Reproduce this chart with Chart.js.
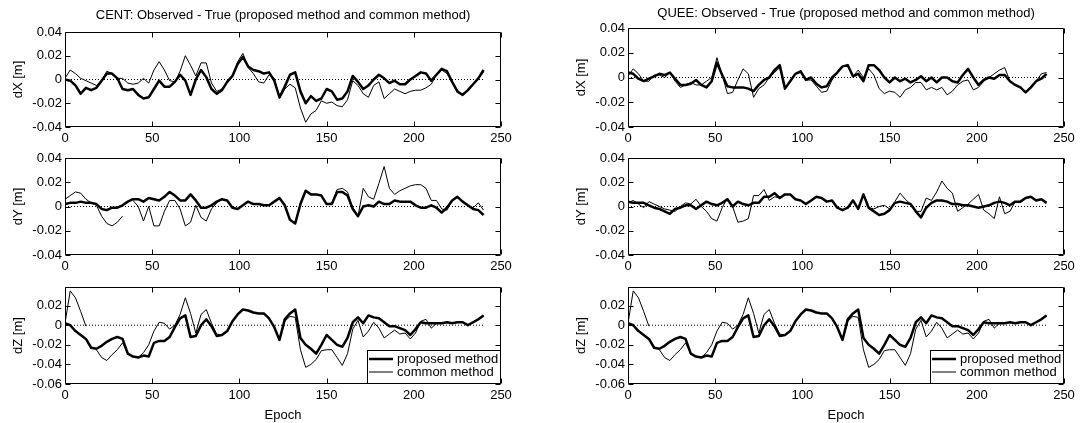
<!DOCTYPE html>
<html lang="en">
<head>
<meta charset="UTF-8">
<title>Observed - True (proposed method and common method)</title>
<script src="https://cdn.jsdelivr.net/npm/chart.js"></script>
<style>
    body {
        margin: 0;
        background: #fff;
        width: 1081px;
        height: 423px;
        overflow: hidden;
        position: relative;
    }
    canvas { position: absolute; }
</style>
</head>
<body>
<script>
// epochs sampled every 3rd epoch
const epochs = [
    0,3,6,9,12,15,18,21,24,27,
    30,33,36,39,42,45,48,51,54,57,
    60,63,66,69,72,75,78,81,84,87,
    90,93,96,99,102,105,108,111,114,117,
    120,123,126,129,132,135,138,141,144,147,
    150,153,156,159,162,165,168,171,174,177,
    180,183,186,189,192,195,198,201,204,207,
    210,213,216,219,222,225,228,231,234,237,
    240];

// CENT station [m]
const centXProposed = [
    0.000,-0.001,-0.005,-0.012,-0.007,-0.009,-0.007,-0.001,0.005,0.005,
    0.001,-0.008,-0.009,-0.008,-0.013,-0.016,-0.015,-0.008,-0.001,-0.006,
    -0.006,-0.002,0.004,-0.001,-0.013,0.000,0.008,0.002,-0.008,-0.012,
    -0.009,-0.002,0.003,0.013,0.019,0.011,0.008,0.007,0.005,0.006,
    -0.001,-0.015,-0.006,0.004,0.006,-0.010,-0.020,-0.014,-0.018,-0.016,
    -0.008,-0.010,-0.017,-0.016,-0.010,0.003,-0.002,-0.008,-0.005,0.000,
    0.004,0.001,-0.003,-0.001,-0.004,-0.004,0.000,0.003,0.006,0.005,
    -0.001,0.004,0.009,0.007,-0.002,-0.010,-0.013,-0.009,-0.004,0.001,
    0.008];
const centXCommon = [
    0.001,0.008,0.005,0.001,-0.001,-0.003,-0.005,-0.001,0.007,0.005,
    0.001,0.001,-0.003,-0.004,-0.003,0.001,-0.003,0.008,0.015,0.008,
    -0.001,-0.002,0.007,0.020,0.012,0.003,0.014,0.014,-0.003,-0.010,
    -0.008,-0.002,0.002,0.015,0.022,0.010,0.005,-0.002,-0.003,0.004,
    0.001,-0.016,-0.008,-0.004,-0.007,-0.024,-0.036,-0.029,-0.026,-0.018,
    -0.020,-0.019,-0.022,-0.023,-0.017,-0.001,-0.005,-0.012,-0.015,-0.005,
    -0.002,-0.016,-0.012,-0.008,-0.010,-0.012,-0.010,-0.009,-0.009,-0.007,
    -0.004,0.004,0.008,0.005,-0.002,-0.011,-0.012,-0.009,-0.004,0.001,
    0.006];
const centYProposed = [
    0.002,0.003,0.003,0.004,0.003,0.003,0.002,-0.002,-0.003,-0.001,
    -0.001,0.001,0.004,0.006,0.006,0.004,0.007,0.006,0.005,0.008,
    0.012,0.009,0.005,0.005,0.010,0.005,-0.001,-0.001,0.001,0.004,
    0.006,0.005,-0.001,-0.002,0.001,0.004,0.002,0.002,0.001,0.001,
    0.004,0.007,0.001,-0.011,-0.014,0.002,0.013,0.010,0.010,0.009,
    0.002,0.002,0.012,0.012,0.009,-0.002,-0.008,0.000,0.001,0.000,
    0.004,0.002,0.002,0.005,0.004,0.004,0.004,0.001,-0.001,-0.001,
    0.001,-0.001,-0.005,-0.001,0.005,0.008,0.004,0.001,-0.002,-0.003,
    -0.007];
const centYCommon = [
    0.006,0.009,0.012,0.011,0.006,0.003,0.001,-0.008,-0.014,-0.016,
    -0.013,-0.008,null,0.005,0.000,-0.012,0.000,-0.016,-0.016,-0.004,
    0.005,0.005,-0.002,-0.016,-0.013,0.001,-0.009,-0.012,-0.002,0.003,
    0.006,0.005,-0.001,-0.002,0.001,0.004,0.002,0.002,0.001,0.001,
    0.004,0.007,0.001,-0.011,-0.014,0.003,0.013,0.010,0.010,0.009,
    0.002,0.003,0.014,0.015,0.012,-0.001,-0.008,0.015,0.008,0.006,
    0.019,0.033,0.015,0.010,0.013,0.015,0.017,0.018,0.018,0.015,
    0.005,0.005,-0.002,-0.003,0.005,0.008,0.004,0.001,-0.001,0.003,
    -0.003];
const centZProposed = [
    0.002,0.000,-0.006,-0.010,-0.014,-0.023,-0.024,-0.021,-0.017,-0.014,
    -0.012,-0.014,-0.029,-0.032,-0.033,-0.031,-0.032,-0.018,-0.016,-0.016,
    -0.012,-0.002,0.007,0.010,-0.012,-0.011,0.000,0.006,-0.001,-0.011,
    -0.010,-0.006,0.004,0.011,0.016,0.015,0.013,0.012,0.012,0.007,
    -0.002,-0.015,0.006,0.012,0.016,-0.013,-0.020,-0.024,-0.029,-0.020,
    -0.010,-0.015,-0.020,-0.022,-0.013,0.003,0.008,0.002,0.010,0.008,
    0.007,0.003,-0.001,-0.001,-0.003,-0.005,-0.010,-0.004,0.003,0.002,
    0.002,0.002,0.002,0.003,0.002,0.003,0.003,0.000,0.003,0.006,
    0.010];
const centZCommon = [
    0.002,0.035,0.028,0.014,-0.001,null,-0.025,-0.033,-0.036,-0.030,
    -0.025,-0.018,-0.029,-0.032,-0.033,-0.028,-0.020,-0.006,0.003,0.002,
    -0.004,0.000,0.011,0.028,0.012,-0.008,0.011,0.016,0.002,-0.009,
    -0.010,-0.006,0.004,0.011,0.016,0.015,0.013,0.012,0.012,0.007,
    -0.002,-0.015,0.004,0.009,0.008,-0.025,-0.043,-0.040,-0.035,-0.026,
    -0.025,-0.025,-0.033,-0.041,-0.029,-0.004,0.005,-0.012,-0.006,0.003,
    -0.003,-0.013,-0.009,-0.005,-0.009,-0.008,-0.014,-0.008,0.004,0.006,
    -0.003,0.002,0.002,0.003,0.002,0.003,0.003,0.000,0.003,0.006,
    0.010];

// QUEE station [m]
const queeXProposed = [
    0.004,0.003,-0.001,-0.003,-0.001,0.001,0.003,0.002,0.004,-0.001,
    -0.006,-0.006,-0.005,-0.002,-0.006,-0.008,-0.003,0.012,0.002,-0.007,
    -0.008,-0.008,-0.008,-0.009,-0.011,-0.006,-0.002,0.000,0.006,0.010,
    -0.009,-0.003,0.003,0.005,-0.002,0.000,-0.005,-0.008,-0.007,0.000,
    0.004,0.009,0.010,0.001,0.003,-0.003,0.010,0.010,0.006,0.000,
    -0.004,0.000,-0.003,-0.001,-0.004,-0.002,0.001,-0.003,0.000,-0.004,
    0.000,0.000,-0.003,-0.004,0.002,0.007,0.000,-0.006,-0.002,0.000,
    -0.001,0.002,0.002,-0.003,-0.006,-0.008,-0.012,-0.008,-0.003,-0.001,
    0.003];
const queeXCommon = [
    0.001,0.007,0.003,-0.003,-0.003,0.002,0.002,0.000,0.004,-0.003,
    -0.008,-0.006,-0.004,-0.006,-0.006,-0.003,0.000,0.016,0.002,-0.013,
    -0.012,-0.002,0.007,0.003,-0.016,-0.009,-0.006,0.000,0.004,0.008,
    -0.009,-0.003,0.003,0.004,-0.002,-0.002,-0.007,-0.012,-0.011,-0.002,
    0.004,0.009,0.010,0.001,0.006,0.000,0.007,0.002,-0.009,-0.013,
    -0.011,-0.012,-0.016,-0.010,-0.008,-0.004,-0.004,-0.010,-0.008,-0.010,
    -0.008,-0.014,-0.011,-0.006,-0.003,-0.002,-0.010,-0.008,-0.003,0.000,
    0.003,0.006,0.008,-0.003,-0.006,-0.008,-0.012,-0.008,-0.003,0.003,
    0.004];
const queeYProposed = [
    0.004,0.003,0.003,0.003,0.001,-0.001,-0.002,-0.004,-0.006,-0.002,
    -0.001,0.001,0.001,-0.002,0.001,0.004,0.002,0.001,0.003,0.006,
    0.000,0.004,0.002,0.001,0.003,0.003,0.008,0.008,0.011,0.007,
    0.010,0.010,0.006,0.005,0.002,0.005,0.008,0.007,0.004,0.005,
    -0.001,-0.003,-0.001,0.005,-0.002,0.010,-0.001,-0.004,-0.007,-0.006,
    -0.003,0.003,0.004,0.003,0.002,-0.004,-0.009,-0.001,0.003,0.005,
    0.005,0.004,0.002,0.002,0.001,0.001,0.000,-0.001,0.000,0.001,
    0.003,0.004,0.003,0.001,0.004,0.004,0.007,0.008,0.005,0.006,
    0.003];
const queeYCommon = [
    0.003,0.005,0.002,-0.001,0.004,0.002,0.000,-0.002,-0.003,-0.004,
    0.000,0.003,0.002,0.006,0.000,-0.004,-0.010,-0.012,-0.001,0.007,
    0.000,-0.013,-0.012,-0.010,0.009,0.009,0.014,0.005,0.008,0.007,
    0.010,0.010,0.006,0.005,0.002,0.005,0.008,0.007,0.004,0.005,
    -0.001,-0.003,-0.001,0.005,-0.002,0.010,-0.001,-0.002,0.000,0.001,
    -0.002,0.004,0.011,0.006,0.002,-0.004,-0.004,0.007,0.005,0.012,
    0.021,0.015,0.011,-0.004,-0.001,0.002,0.006,0.010,-0.003,-0.006,
    -0.010,0.008,-0.006,-0.004,0.004,0.004,0.007,0.008,0.005,0.006,
    0.003];
// the dZ panels show the same curves for both stations
const queeZProposed = centZProposed;
const queeZCommon = centZCommon;

const seriesNames = ['proposed method', 'common method'];
const xTicks = [0, 50, 100, 150, 200, 250];
const yTicksXY = [-0.04, -0.02, 0, 0.02, 0.04];
const yTicksZ = [-0.06, -0.04, -0.02, 0, 0.02];

const Y_AXIS_W = 58, PAD_RIGHT = 17, AREA_W = 436;
const FONT = "'Liberation Sans', Arial, sans-serif";

Chart.defaults.font.family = FONT;
Chart.defaults.font.size = 13;
Chart.defaults.color = '#000';

const panels = [
    {left: 65, top: 32, h: 95, title: 'CENT: Observed - True (proposed method and common method)', titleY: 15,
     ylabel: 'dX [m]', proposed: centXProposed, common: centXCommon, yTicks: yTicksXY, yMin: -0.04, yMax: 0.04},
    {left: 65, top: 158, h: 97, ylabel: 'dY [m]', proposed: centYProposed, common: centYCommon,
     yTicks: yTicksXY, yMin: -0.04, yMax: 0.04},
    {left: 65, top: 287, h: 97, ylabel: 'dZ [m]', proposed: centZProposed, common: centZCommon,
     yTicks: yTicksZ, yMin: -0.06, yMax: 0.039, xlabel: 'Epoch', legend: true},
    {left: 628, top: 28, h: 99, title: 'QUEE: Observed - True (proposed method and common method)', titleY: 13.3,
     ylabel: 'dX [m]', proposed: queeXProposed, common: queeXCommon, yTicks: yTicksXY, yMin: -0.04, yMax: 0.04},
    {left: 628, top: 158, h: 97, ylabel: 'dY [m]', proposed: queeYProposed, common: queeYCommon,
     yTicks: yTicksXY, yMin: -0.04, yMax: 0.04},
    {left: 628, top: 287, h: 97, ylabel: 'dZ [m]', proposed: queeZProposed, common: queeZCommon,
     yTicks: yTicksZ, yMin: -0.06, yMax: 0.039, xlabel: 'Epoch', legend: true}
];

// box round the axes with inward ticks on all four sides
const framePlugin = {
    id: 'frame',
    afterDatasetsDraw(chart) {
        const {ctx, chartArea: a, scales} = chart;
        const L = Math.round(a.left) + 0.5, R = Math.round(a.right) - 0.5;
        const T = Math.round(a.top) + 0.5, B = Math.round(a.bottom) - 0.5;
        ctx.save();
        ctx.strokeStyle = '#000';
        ctx.lineWidth = 1;
        ctx.beginPath();
        ctx.rect(L, T, R - L, B - T);
        scales.x.ticks.forEach(t => {
            const x = Math.round(scales.x.getPixelForValue(t.value)) + 0.5;
            ctx.moveTo(x, B); ctx.lineTo(x, B - 5);
            ctx.moveTo(x, T); ctx.lineTo(x, T + 5);
        });
        scales.y.ticks.forEach(t => {
            const y = Math.round(scales.y.getPixelForValue(t.value)) + 0.5;
            ctx.moveTo(L, y); ctx.lineTo(L + 5, y);
            ctx.moveTo(R, y); ctx.lineTo(R - 5, y);
        });
        ctx.stroke();
        ctx.restore();
    }
};

const legendPlugin = {
    id: 'legendBox',
    afterDraw(chart, args, opts) {
        if (!opts.show) return;
        const {ctx, chartArea: a} = chart;
        const x0 = Math.round(a.right) - 134, y0 = Math.round(a.bottom) - 34;
        const x1 = Math.round(a.right), y1 = Math.round(a.bottom);
        ctx.save();
        ctx.fillStyle = '#fff';
        ctx.fillRect(x0, y0, x1 - x0, y1 - y0);
        ctx.strokeStyle = '#000';
        ctx.lineWidth = 1;
        ctx.strokeRect(x0 + 0.5, y0 + 0.5, x1 - x0 - 1, y1 - y0 - 1);
        ctx.font = '13px ' + FONT;
        ctx.textBaseline = 'middle';
        ctx.fillStyle = '#000';
        const rows = chart.data.datasets.filter(d => d.inLegend)
            .sort((p, q) => p.legendRow - q.legendRow);
        rows.forEach((d, i) => {
            const y = y0 + 9 + i * 13;
            ctx.lineWidth = d.borderWidth;
            ctx.beginPath();
            ctx.moveTo(x0 + 2, y);
            ctx.lineTo(x0 + 26, y);
            ctx.stroke();
            ctx.fillText(d.label, x0 + 30, y);
        });
        ctx.restore();
    }
};

const toPoints = values => epochs.map((e, i) => ({x: e, y: values[i]}));
const fmtY = v => v === 0 ? '0' : String(Number(v.toFixed(2)));

panels.forEach(p => {
    const canvas = document.createElement('canvas');
    const hasTitle = !!p.title;
    const canvasTop = hasTitle ? 0 : p.top - 12;
    const xAxisH = p.xlabel ? 43 : 22;
    canvas.width = Y_AXIS_W + AREA_W + PAD_RIGHT;
    canvas.height = (p.top - canvasTop) + p.h + xAxisH;
    canvas.style.left = (p.left - Y_AXIS_W) + 'px';
    canvas.style.top = canvasTop + 'px';
    document.body.appendChild(canvas);

    new Chart(canvas, {
        type: 'line',
        data: {
            datasets: [
                {label: seriesNames[1], data: toPoints(p.common), borderColor: '#000',
                 borderWidth: 1, order: 1, inLegend: true, legendRow: 1},
                {label: seriesNames[0], data: toPoints(p.proposed), borderColor: '#000',
                 borderWidth: 2.5, order: 2, inLegend: true, legendRow: 0},
                {label: 'zero', data: [{x: epochs[0], y: 0}, {x: epochs[epochs.length - 1], y: 0}],
                 borderColor: '#000', borderWidth: 1, borderDash: [1, 2], order: 3}
            ]
        },
        options: {
            responsive: false,
            animation: false,
            events: [],
            elements: {
                point: {radius: 0, hoverRadius: 0},
                line: {tension: 0, borderJoinStyle: 'round', fill: false}
            },
            layout: {padding: {top: hasTitle ? 0 : 12, right: PAD_RIGHT, bottom: 0, left: 0}},
            plugins: {
                legend: {display: false},
                tooltip: {enabled: false},
                title: hasTitle ? {
                    display: true, text: p.title, color: '#000', fullSize: false,
                    font: {size: 13, weight: 'normal'},
                    padding: {top: p.titleY - 7.8, bottom: p.top - p.titleY - 7.8}
                } : {display: false},
                legendBox: {show: !!p.legend}
            },
            scales: {
                x: {
                    type: 'linear', min: 0, max: 250,
                    grid: {display: false, drawTicks: false},
                    border: {display: false},
                    ticks: {padding: 4, maxRotation: 0, autoSkip: false, color: '#000'},
                    afterBuildTicks: s => { s.ticks = xTicks.map(v => ({value: v})); },
                    afterFit: s => { s.height = xAxisH; },
                    title: {display: !!p.xlabel, text: p.xlabel || '', color: '#000',
                            font: {size: 13}, padding: {top: 4, bottom: 4}}
                },
                y: {
                    type: 'linear', min: p.yMin, max: p.yMax,
                    grid: {display: false, drawTicks: false},
                    border: {display: false},
                    ticks: {padding: 3, color: '#000', callback: fmtY},
                    afterBuildTicks: s => { s.ticks = p.yTicks.map(v => ({value: v})); },
                    afterFit: s => { s.width = Y_AXIS_W; },
                    title: {display: true, text: p.ylabel, color: '#000',
                            font: {size: 13}, padding: {top: 4, bottom: 4}}
                }
            }
        },
        plugins: [framePlugin, legendPlugin]
    });
});
</script>
</body>
</html>
